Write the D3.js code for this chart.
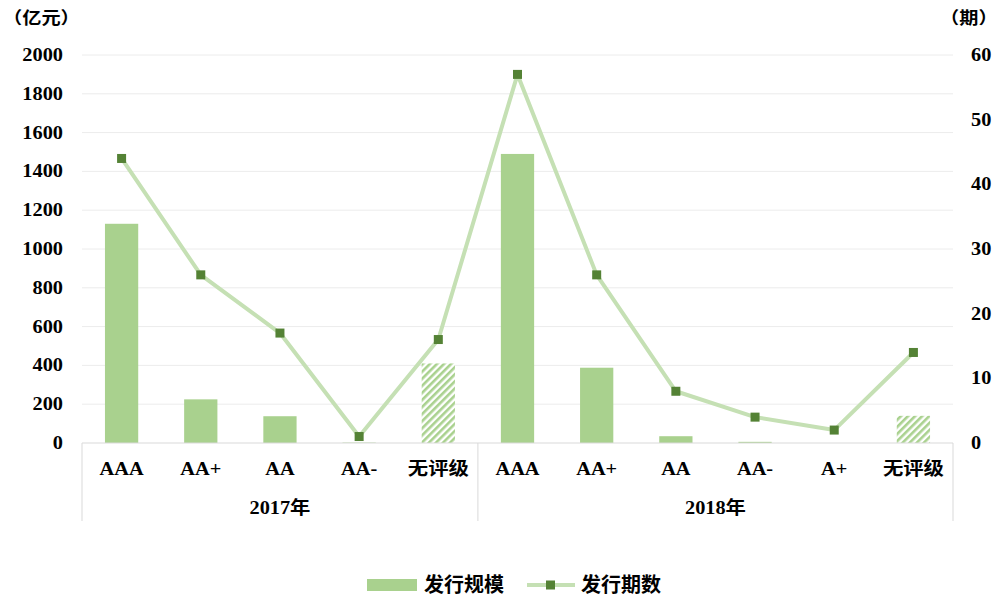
<!DOCTYPE html>
<html>
<head>
<meta charset="utf-8">
<script src="https://cdn.jsdelivr.net/npm/d3@7/dist/d3.min.js"></script>
<style>
  body { margin: 0; background: #fff; }
  text { font-family: "Liberation Serif", "Noto Sans CJK SC", serif; font-weight: bold; fill: #000; }
</style>
</head>
<body>
<div id="chart"></div>
<script>
// data
var groups = ['2017年', '2018年'];
var ratings2017 = ['AAA', 'AA+', 'AA', 'AA-', '无评级'];
var ratings2018 = ['AAA', 'AA+', 'AA', 'AA-', 'A+', '无评级'];
var scale2017 = [1130, 225, 138, 2, 410];     // 发行规模 (亿元)
var scale2018 = [1490, 388, 35, 6, 0, 140];
var count2017 = [44, 26, 17, 1, 16];          // 发行期数 (期)
var count2018 = [57, 26, 8, 4, 2, 14];
var leftTicks = [0, 200, 400, 600, 800, 1000, 1200, 1400, 1600, 1800, 2000];
var rightTicks = [0, 10, 20, 30, 40, 50, 60];

var chart_width = 999;
var chart_height = 599;
var margin = {left: 82, right: 46, top: 55, bottom: 156};
var stretch = 1.13; // labels in the picture are a bit wider than normal

// flat rows
var rows = [];
ratings2017.forEach(function(r, i) {
  rows.push({group: 0, rating: r, scale: scale2017[i], count: count2017[i], hatch: r === '无评级'});
});
ratings2018.forEach(function(r, i) {
  rows.push({group: 1, rating: r, scale: scale2018[i], count: count2018[i], hatch: r === '无评级'});
});

function at(x, y) {
  return 'translate(' + x + ',' + y + ') scale(' + stretch + ',1)';
}

var svg = d3.select('#chart')
  .append('svg')
  .attr('width', chart_width)
  .attr('height', chart_height);

var defs = svg.append('defs');
var pat = defs.append('pattern')
  .attr('id', 'hatch')
  .attr('patternUnits', 'userSpaceOnUse')
  .attr('width', 5)
  .attr('height', 5)
  .attr('patternTransform', 'rotate(45)');
pat.append('rect').attr('width', 5).attr('height', 5).attr('fill', '#fff');
pat.append('rect').attr('width', 2.6).attr('height', 5).attr('fill', '#a9d18e');

var x0 = margin.left, x1 = chart_width - margin.right;
var yBase = chart_height - margin.bottom;

var x_scale = d3.scaleBand()
  .domain(d3.range(rows.length))
  .range([x0, x1])
  .paddingInner(0);

var y_scale = d3.scaleLinear()
  .domain([0, 2000])
  .range([yBase, margin.top]);

var y2_scale = d3.scaleLinear()
  .domain([0, 60])
  .range([yBase, margin.top]);

// gridlines
svg.selectAll('.grid')
  .data(leftTicks.slice(1))
  .enter()
  .append('line')
  .attr('x1', x0).attr('x2', x1)
  .attr('y1', function(d) { return y_scale(d); })
  .attr('y2', function(d) { return y_scale(d); })
  .attr('stroke', '#ececec')
  .attr('stroke-width', 1);

// left tick labels
svg.selectAll('.ltick')
  .data(leftTicks)
  .enter()
  .append('text')
  .attr('transform', function(d) { return at(63, y_scale(d) + 6); })
  .attr('text-anchor', 'end')
  .attr('font-size', 18)
  .text(function(d) { return d; });

// right tick labels
svg.selectAll('.rtick')
  .data(rightTicks)
  .enter()
  .append('text')
  .attr('transform', function(d) { return at(971, y2_scale(d) + 6); })
  .attr('text-anchor', 'start')
  .attr('font-size', 18)
  .text(function(d) { return d; });

svg.append('text').attr('transform', at(3, 24)).attr('font-size', 17).text('（亿元）');
svg.append('text').attr('transform', at(940, 24)).attr('font-size', 17).text('（期）');

// bars
var barW = x_scale.bandwidth() * 0.42;
svg.selectAll('.bar')
  .data(rows)
  .enter()
  .append('rect')
  .attr('x', function(d, i) { return x_scale(i) + (x_scale.bandwidth() - barW) / 2; })
  .attr('y', function(d) { return y_scale(d.scale); })
  .attr('width', barW)
  .attr('height', function(d) { return yBase - y_scale(d.scale); })
  .attr('fill', function(d) { return d.hatch ? 'url(#hatch)' : '#a9d18e'; });

// axis line and group separators
svg.append('line')
  .attr('x1', x0).attr('x2', x1)
  .attr('y1', yBase).attr('y2', yBase)
  .attr('stroke', '#d9d9d9').attr('stroke-width', 1);

var sepX = [x0, x_scale(ratings2017.length), x1];
svg.selectAll('.sep')
  .data(sepX)
  .enter()
  .append('line')
  .attr('x1', function(d) { return d; })
  .attr('x2', function(d) { return d; })
  .attr('y1', yBase).attr('y2', 521)
  .attr('stroke', '#d9d9d9').attr('stroke-width', 1);

// category labels
svg.selectAll('.cat')
  .data(rows)
  .enter()
  .append('text')
  .attr('transform', function(d, i) { return at(x_scale(i) + x_scale.bandwidth() / 2, 475); })
  .attr('text-anchor', 'middle')
  .attr('font-size', 18)
  .text(function(d) { return d.rating; });

// group labels
svg.selectAll('.grp')
  .data(groups)
  .enter()
  .append('text')
  .attr('transform', function(d, i) { return at((sepX[i] + sepX[i + 1]) / 2, 514); })
  .attr('text-anchor', 'middle')
  .attr('font-size', 18)
  .text(function(d) { return d; });

// line
var line = d3.line()
  .x(function(d, i) { return x_scale(i) + x_scale.bandwidth() / 2; })
  .y(function(d) { return y2_scale(d.count); });

svg.append('path')
  .datum(rows)
  .attr('d', line)
  .attr('fill', 'none')
  .attr('stroke', '#c5e0b4')
  .attr('stroke-width', 4)
  .attr('stroke-linejoin', 'round');

svg.selectAll('.mark')
  .data(rows)
  .enter()
  .append('rect')
  .attr('x', function(d, i) { return x_scale(i) + x_scale.bandwidth() / 2 - 4.5; })
  .attr('y', function(d) { return y2_scale(d.count) - 4.5; })
  .attr('width', 9)
  .attr('height', 9)
  .attr('fill', '#548235');

// legend
var lg = svg.append('g').attr('transform', 'translate(0,585)');
lg.append('rect').attr('x', 367).attr('y', -6).attr('width', 50).attr('height', 12).attr('fill', '#a9d18e');
lg.append('text').attr('x', 424).attr('y', 7).attr('font-size', 20).text('发行规模');
lg.append('line').attr('x1', 527).attr('x2', 575).attr('y1', 0).attr('y2', 0)
  .attr('stroke', '#c5e0b4').attr('stroke-width', 4);
lg.append('rect').attr('x', 546).attr('y', -4.5).attr('width', 9).attr('height', 9).attr('fill', '#548235');
lg.append('text').attr('x', 581).attr('y', 7).attr('font-size', 20).text('发行期数');
</script>
</body>
</html>
